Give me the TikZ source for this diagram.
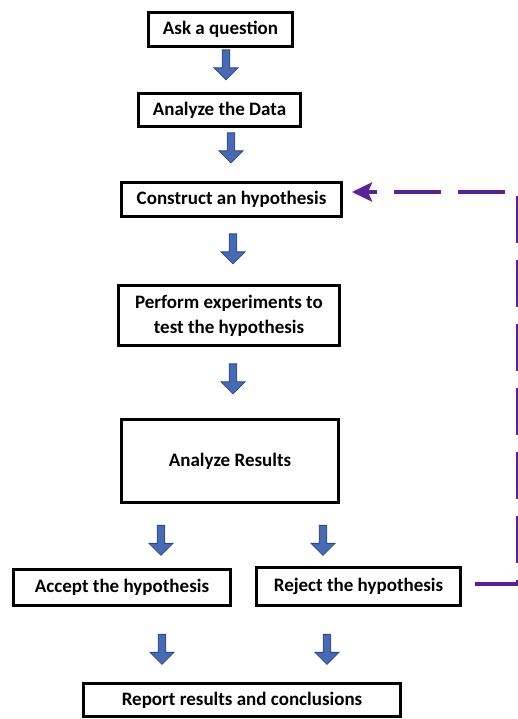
\documentclass[tikz,border=0pt]{standalone}
\usepackage{fontspec}
\setmainfont{Carlito}
\usetikzlibrary{shapes.arrows,arrows.meta}
\definecolor{blkfill}{RGB}{72,106,178}
\definecolor{blkline}{RGB}{47,72,130}
\definecolor{loopcol}{RGB}{90,34,150}
\begin{document}
\begin{tikzpicture}[x=1pt,y=-1pt,
    box/.style={draw=black,line width=3pt,align=center,inner sep=0pt,
        font=\fontsize{19}{25}\selectfont\bfseries},
    blk/.style={shape=single arrow,draw=blkline,fill=blkfill,line width=0.8pt,
        rotate=-90,inner sep=0pt,text height=6.5pt,text depth=0pt,
        minimum width=24pt,minimum height=30pt,
        single arrow head extend=8pt,single arrow head indent=0pt},
    back/.style={draw=loopcol,line width=4pt,dash pattern=on 47pt off 17pt,
        -{Stealth[length=20pt,width=19pt,inset=4pt]}}]
    \useasboundingbox (0,0) rectangle (517,719);
    \node[box,minimum width=144pt,minimum height=34pt] (A) at (220.5,29.5) {Ask a question};
    \node[box,minimum width=162pt,minimum height=33pt] (B) at (219.5,110) {Analyze the Data};
    \node[box,minimum width=220pt,minimum height=34pt] (C) at (231.5,199.5) {Construct an hypothesis};
    \node[box,minimum width=221pt,minimum height=60pt] (D) at (229,315.5) {Perform experiments to\\test the hypothesis};
    \node[box,minimum width=217pt,minimum height=83pt] (E) at (230,461) {Analyze Results};
    \node[box,minimum width=217pt,minimum height=36pt] (F) at (122,587.5) {Accept the hypothesis};
    \node[box,minimum width=204pt,minimum height=38pt] (G) at (358.5,586.5) {Reject the hypothesis};
    \node[box,minimum width=317pt,minimum height=33pt] (H) at (242,700) {Report results and conclusions};

    \node[blk] (AB) at (226,63) {};
    \node[blk] (BC) at (231,146) {};
    \node[blk] (CD) at (233,247) {};
    \node[blk] (DE) at (233,377) {};
    \node[blk] (EF) at (161,538.5) {};
    \node[blk] (EG) at (323,538.5) {};
    \node[blk] (FH) at (162,647.5) {};
    \node[blk] (GH) at (327,647.5) {};

    \coordinate (P) at (518,584);
    \coordinate (Q) at (518,192);
    \coordinate (R) at (352,192);
    \draw[back] ([xshift=13pt,yshift=2.5pt]G.east) -- (P) -- (Q) -- (R);
\end{tikzpicture}
\end{document}
